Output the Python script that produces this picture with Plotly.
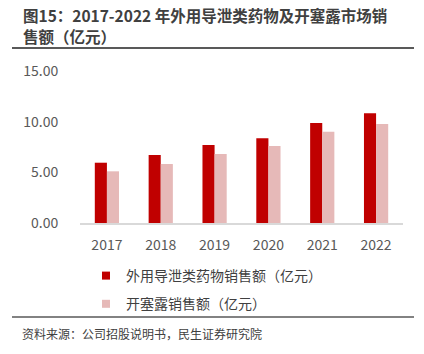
import plotly.graph_objects as go

years = ["2017", "2018", "2019", "2020", "2021", "2022"]
topical_laxative_sales = [5.95, 6.70, 7.70, 8.36, 9.87, 10.83]
kaisailu_sales = [5.10, 5.82, 6.80, 7.60, 9.00, 9.77]
series_names = ["外用导泄类药物销售额（亿元）", "开塞露销售额（亿元）"]
series_colors = ["#C00000", "#E6B9B8"]
y_ticks = [0, 5, 10, 15]
title_lines = ["图15：2017-2022 年外用导泄类药物及开塞露市场销", "售额（亿元）"]
source_text = "资料来源：公司招股说明书，民生证券研究院"

FONT = "Noto Sans CJK SC"

fig = go.Figure()
for name, vals, col, grp in zip(series_names, [topical_laxative_sales, kaisailu_sales], series_colors, ["a", "b"]):
    fig.add_trace(go.Bar(x=years, y=vals, name=name, marker=dict(color=col, line=dict(width=0)),
                         showlegend=False, legendgroup=grp))
    fig.add_trace(go.Scatter(x=[None], y=[None], mode="markers", name=name, legendgroup=grp,
                             marker=dict(symbol="square", size=8, color=col)))

fig.update_layout(
    width=424, height=354,
    margin=dict(l=80, r=21, t=71, b=131),
    paper_bgcolor="white", plot_bgcolor="white",
    barmode="group", bargap=0.55, bargroupgap=0,
    font=dict(family=FONT, color="#595959"),
    xaxis=dict(showgrid=False, showline=True, linecolor="#D9D9D9", linewidth=1.5,
               ticks="outside", ticklen=8, tickcolor="rgba(0,0,0,0)",
               tickfont=dict(size=14, color="#595959", family=FONT)),
    yaxis=dict(range=[0, 15], tickvals=y_ticks, tickformat=".2f", showgrid=False,
               zeroline=False, showline=False,
               ticks="outside", ticklen=18, tickcolor="rgba(0,0,0,0)",
               tickfont=dict(size=14, color="#595959", family=FONT)),
    legend=dict(orientation="v", x=(86 - 80) / 323, xanchor="left", y=(223 - 260) / 152, yanchor="top",
                font=dict(size=14, color="#404040", family=FONT),
                traceorder="grouped", tracegroupgap=7, bgcolor="rgba(0,0,0,0)"),
    showlegend=True,
)

for line, cy in zip(title_lines, [14.5, 35.5]):
    fig.add_annotation(xref="paper", yref="paper", x=(22 - 80) / 323, y=(223 - cy) / 152,
                       xanchor="left", yanchor="middle", align="left", showarrow=False,
                       borderpad=0, text="<b>" + line + "</b>",
                       font=dict(size=15.5, color="#404040", family=FONT))
fig.add_shape(type="line", xref="paper", yref="paper", x0=(12 - 80) / 323, x1=(414 - 80) / 323,
              y0=(223 - 48) / 152, y1=(223 - 48) / 152, line=dict(color="#595959", width=2))
fig.add_shape(type="line", xref="paper", yref="paper", x0=(12 - 80) / 323, x1=(414 - 80) / 323,
              y0=(223 - 317) / 152, y1=(223 - 317) / 152, line=dict(color="#595959", width=1.5))
fig.add_annotation(xref="paper", yref="paper", x=(20 - 80) / 323, y=(223 - 333) / 152,
                   xanchor="left", yanchor="middle", showarrow=False,
                   text=source_text,
                   font=dict(size=12, color="#404040", family=FONT))

fig.write_html("out.html")
